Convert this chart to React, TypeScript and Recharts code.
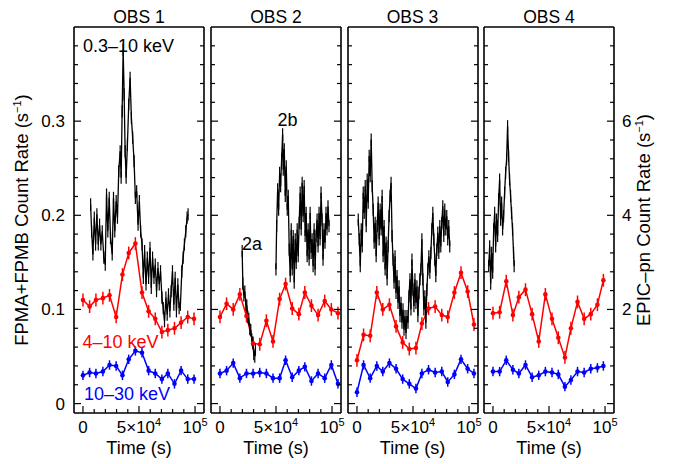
import React from "react";
import { ComposedChart, Line, XAxis, YAxis, ErrorBar } from "recharts";

const FONT = '"Liberation Sans", Arial, Helvetica, sans-serif';

// ---- axis ticks ----
const timeTicks = [0, 10000, 20000, 30000, 40000, 50000, 60000, 70000, 80000, 90000, 100000];
const timeLabels = [
  { v: 0, base: "0", exp: "" },
  { v: 50000, base: "5×10", exp: "4" },
  { v: 100000, base: "10", exp: "5" },
];
const fpmTicks = [0, 0.02, 0.04, 0.06, 0.08, 0.1, 0.12, 0.14, 0.16, 0.18, 0.2, 0.22, 0.24, 0.26, 0.28, 0.3, 0.32, 0.34, 0.36, 0.38];
const fpmLabels = ["0", "0.1", "0.2", "0.3"];
const epicTicks = [0, 0.4, 0.8, 1.2, 1.6, 2, 2.4, 2.8, 3.2, 3.6, 4, 4.4, 4.8, 5.2, 5.6, 6, 6.4, 6.8, 7.2, 7.6];
const epicLabels = ["", "2", "4", "6"];

// ---- NuSTAR FPMA+FPMB (s^-1) ----
const obs1Time = [0, 5940, 11570, 17780, 23690, 29610, 35230, 40850, 46760, 52680, 58590, 64510, 70420, 75750, 81660, 87580, 93490, 99110];
const obs1Soft = [0.110, 0.103, 0.110, 0.112, 0.115, 0.092, 0.137, 0.160, 0.170, 0.118, 0.098, 0.090, 0.076, 0.078, 0.080, 0.086, 0.092, 0.090];
const obs1Hard = [0.030, 0.033, 0.032, 0.034, 0.041, 0.040, 0.030, 0.047, 0.056, 0.054, 0.035, 0.032, 0.026, 0.032, 0.021, 0.035, 0.026, 0.026];

const obs2Time = [0, 5910, 11830, 17750, 23660, 29580, 35490, 41410, 47320, 53240, 58560, 64480, 70390, 75720, 81630, 87550, 93460, 99380, 105300];
const obs2Soft = [0.092, 0.106, 0.100, 0.116, 0.093, 0.064, 0.063, 0.088, 0.066, 0.111, 0.127, 0.101, 0.095, 0.118, 0.104, 0.094, 0.109, 0.100, 0.096];
const obs2Hard = [0.032, 0.035, 0.043, 0.027, 0.032, 0.032, 0.033, 0.032, 0.027, 0.027, 0.046, 0.028, 0.035, 0.039, 0.024, 0.032, 0.027, 0.041, 0.021];

const obs3Time = [0, 5890, 11800, 17720, 23040, 28960, 34870, 40790, 46700, 52620, 57940, 63860, 69770, 75690, 81010, 86930, 92840, 98760, 104380];
const obs3Soft = [0.046, 0.073, 0.072, 0.118, 0.100, 0.105, 0.082, 0.065, 0.058, 0.059, 0.085, 0.101, 0.103, 0.094, 0.092, 0.118, 0.139, 0.119, 0.084];
const obs3Hard = [0.012, 0.041, 0.027, 0.040, 0.034, 0.043, 0.037, 0.026, 0.021, 0.016, 0.032, 0.036, 0.033, 0.034, 0.023, 0.031, 0.047, 0.037, 0.032];

const obs4Time = [0, 5940, 11860, 17780, 23100, 29010, 34930, 40850, 46760, 52680, 58300, 64210, 69540, 75450, 81370, 87280, 93200, 98520];
const obs4Soft = [0.096, 0.097, 0.130, 0.094, 0.113, 0.121, 0.095, 0.066, 0.116, 0.090, 0.070, 0.049, 0.080, 0.108, 0.090, 0.095, 0.105, 0.131];
const obs4Hard = [0.034, 0.034, 0.046, 0.036, 0.032, 0.041, 0.028, 0.030, 0.034, 0.033, 0.031, 0.018, 0.025, 0.034, 0.033, 0.037, 0.038, 0.040];

// ---- XMM EPIC-pn 0.3-10 keV (s^-1), [time, rate] ----
const obs1Epic = [
  [6830, 4.23], [7720, 3.66], [8870, 3.17], [10110, 3.95], [11270, 3.38], [12420, 4.02], [13660, 3.38], [14820, 3.80],
  [15970, 3.38], [17210, 3.66], [18630, 3.10], [19880, 2.95], [21030, 4.44], [22180, 3.66], [23430, 4.37], [24580, 3.52],
  [26090, 3.17], [27240, 4.37], [28390, 3.66], [29640, 4.30], [30790, 3.95], [31940, 4.94], [33190, 5.36], [34070, 4.80],
  [34960, 6.21], [35850, 7.52], [36740, 6.57], [37620, 5.36], [38510, 4.80], [39660, 5.50], [40820, 6.35], [42060, 6.92],
  [43210, 6.07], [44360, 5.65], [45610, 5.15], [46760, 4.37], [47910, 4.51], [49160, 3.80], [50310, 4.30], [51460, 3.66],
  [52710, 3.38], [53860, 2.67], [55010, 3.24], [56260, 2.53], [57410, 3.10], [58560, 2.67], [59810, 3.31], [60960, 2.46],
  [62110, 3.10], [63360, 2.67], [64510, 2.95], [65660, 2.39], [66910, 2.88], [68060, 2.53], [69210, 2.81], [70460, 2.25],
  [71610, 2.03], [72760, 1.75], [74010, 2.25], [75160, 1.89], [76310, 2.32], [77560, 1.96], [78710, 2.39], [79860, 2.81],
  [81110, 2.10], [82260, 2.67], [83410, 1.96], [84660, 2.53], [85810, 2.03], [86960, 2.10], [88210, 2.81], [89360, 3.10],
  [90510, 3.38], [91760, 3.66], [92910, 3.95], [93790, 4.02],
];
const obs2EpicA = [
  [19820, 3.24], [20410, 2.55], [21290, 2.30], [22180, 2.38], [23070, 2.10], [23960, 2.08], [24840, 1.84], [25730, 1.80],
  [26620, 1.58], [27510, 1.56], [28390, 1.36], [29280, 1.30], [30170, 1.05], [31060, 1.00], [31650, 1.15],
];
const obs2EpicB = [
  [49960, 2.85], [50580, 3.77], [51470, 4.55], [52350, 4.12], [53240, 4.90], [54130, 4.62], [55010, 5.19], [55900, 5.72],
  [56490, 4.97], [57380, 5.40], [58270, 4.41], [59150, 5.04], [60040, 4.12], [60930, 4.41], [61810, 3.27], [62700, 2.71],
  [63590, 3.70], [64480, 2.85], [65360, 3.56], [66250, 2.57], [67140, 3.49], [68020, 2.99], [68910, 3.70], [69800, 3.13],
  [70680, 3.84], [71570, 4.48], [72460, 3.70], [73340, 4.69], [74230, 3.98], [75120, 4.62], [76000, 3.56], [76890, 4.05],
  [77780, 3.13], [78660, 3.70], [79550, 3.06], [80440, 4.05], [81330, 3.20], [82210, 3.49], [83100, 2.92], [83990, 3.70],
  [84870, 2.85], [85760, 3.56], [86650, 3.91], [87530, 3.34], [88420, 4.05], [89310, 3.49], [90190, 4.48], [91080, 3.91],
  [91970, 3.06], [92850, 3.70], [93740, 3.42], [94630, 4.05], [95510, 3.70], [96400, 4.19], [97290, 3.77],
];
const obs3Epic = [
  [1150, 3.91], [2040, 3.49], [2930, 2.92], [3820, 3.70], [4700, 3.34], [5590, 4.48], [6480, 4.05], [7360, 4.62],
  [8250, 3.77], [9140, 4.76], [10030, 4.27], [10910, 5.26], [11800, 4.83], [12690, 5.61], [13580, 4.62], [14460, 4.12],
  [15350, 3.42], [16240, 3.84], [17120, 3.13], [18010, 3.77], [18900, 4.27], [19790, 3.49], [20670, 4.12], [21560, 3.70],
  [22450, 4.41], [23340, 3.13], [24220, 3.77], [25110, 2.85], [26000, 3.42], [26890, 2.64], [27770, 3.34], [28660, 3.98],
  [29550, 4.41], [30430, 4.69], [31320, 3.56], [32210, 3.06], [33100, 2.57], [33980, 3.13], [34870, 2.35], [35760, 2.71],
  [36650, 2.14], [37530, 2.49], [38420, 1.86], [39310, 2.14], [40190, 1.72], [41080, 2.00], [41970, 1.57], [42860, 1.86],
  [43740, 1.50], [44630, 1.86], [45520, 1.72], [46400, 2.28], [47290, 2.64], [48180, 2.00], [49070, 3.06], [49950, 2.42],
  [50840, 2.07], [51730, 2.64], [52610, 2.14], [53500, 2.49], [54390, 1.86], [55280, 2.35], [56160, 2.64], [57050, 2.85],
  [57940, 3.49], [58830, 2.64], [59710, 2.00], [60600, 2.28], [61490, 1.72], [62370, 2.42], [63260, 2.85], [64150, 3.13],
  [65040, 2.78], [65920, 3.20], [66810, 3.70], [67700, 4.05], [68580, 3.49], [69470, 3.06], [70360, 2.71], [71250, 3.27],
  [72130, 3.63], [73020, 3.20], [73910, 3.77], [74790, 3.34], [75680, 3.84], [76570, 4.19], [77460, 3.56], [78340, 4.12],
  [79230, 3.70], [80120, 3.98], [81000, 3.49], [81890, 3.77], [82780, 3.34],
];
const obs4Epic = [
  [-3820, 2.92], [-2930, 3.34], [-2040, 2.55], [-1150, 3.20], [-270, 2.78], [620, 3.70], [1510, 4.05], [2400, 3.34],
  [3280, 3.91], [4170, 3.56], [5060, 4.34], [5940, 4.76], [6830, 3.91], [7720, 4.27], [8610, 3.70], [9490, 3.98],
  [10380, 4.48], [11270, 4.90], [12160, 5.19], [13040, 5.89], [13930, 5.26], [14820, 4.76], [15710, 4.41], [16590, 4.05],
  [17480, 3.70], [18370, 3.20], [18900, 2.92],
];

const nuRows = (ts: number[], vs: number[], err: number) => ts.map((t, i) => ({ t, v: vs[i], e: err }));
const epicRows = (pairs: number[][]) => pairs.map(([t, v]) => ({ t, v, e: 0.13 }));

const frame = { stroke: "#000", strokeWidth: 1.6 };
const isMajor = (v: number, step: number) => Math.abs(v / step - Math.round(v / step)) < 1e-6;

function BottomTick(props: any) {
  const { x, y, payload } = props;
  const v = payload.value;
  const major = isMajor(v, 50000);
  const lab = timeLabels.find((l) => l.v === v);
  return (
    <g>
      <line x1={x} x2={x} y1={y} y2={y - (major ? 7 : 4)} stroke="#000" strokeWidth={1.2} />
      {lab && (
        <text x={x} y={y + 20} textAnchor="middle" fontSize={17} fontFamily={FONT} fill="#000">
          <tspan>{lab.base}</tspan>
          {lab.exp && (
            <tspan dy={-7} fontSize={11}>
              {lab.exp}
            </tspan>
          )}
        </text>
      )}
    </g>
  );
}

function TopTick(props: any) {
  const { x, y, payload } = props;
  const major = isMajor(payload.value, 50000);
  return <line x1={x} x2={x} y1={y} y2={y + (major ? 7 : 4)} stroke="#000" strokeWidth={1.2} />;
}

function LeftTick(props: any) {
  const { x, y, payload, showLabels } = props;
  const v = payload.value;
  const major = isMajor(v, 0.1);
  return (
    <g>
      <line x1={x} x2={x + (major ? 7 : 4)} y1={y} y2={y} stroke="#000" strokeWidth={1.2} />
      {showLabels && major && (
        <text x={x - 9} y={y + 6} textAnchor="end" fontSize={17} fontFamily={FONT} fill="#000">
          {fpmLabels[Math.round(v * 10)]}
        </text>
      )}
    </g>
  );
}

function RightTick(props: any) {
  const { x, y, payload, showLabels } = props;
  const v = payload.value;
  const major = isMajor(v, 2);
  return (
    <g>
      <line x1={x} x2={x - (major ? 7 : 4)} y1={y} y2={y} stroke="#000" strokeWidth={1.2} />
      {showLabels && major && (
        <text x={x + 8} y={y + 6} textAnchor="start" fontSize={17} fontFamily={FONT} fill="#000">
          {epicLabels[Math.round(v / 2)]}
        </text>
      )}
    </g>
  );
}

type PanelProps = {
  left: number;
  times: number[];
  soft: number[];
  hard: number[];
  epic: number[][][];
  leftLabels?: boolean;
  rightLabels?: boolean;
};

function Panel({ left, times, soft, hard, epic, leftLabels, rightLabels }: PanelProps) {
  return (
    <div style={{ position: "absolute", left: left - 50, top: 0 }}>
      <ComposedChart width={230} height={464} margin={{ top: 26, right: 49, bottom: 50, left: 49 }}>
        <XAxis
          xAxisId="b"
          type="number"
          dataKey="t"
          domain={[-8000, 108000]}
          ticks={timeTicks}
          interval={0}
          height={1}
          tickSize={0}
          tickMargin={0}
          tickLine={false}
          axisLine={frame}
          tick={(p: any) => <BottomTick {...p} />}
        />
        <XAxis
          xAxisId="top"
          orientation="top"
          type="number"
          dataKey="t"
          domain={[-8000, 108000]}
          ticks={timeTicks}
          interval={0}
          height={1}
          tickSize={0}
          tickMargin={0}
          tickLine={false}
          axisLine={frame}
          tick={(p: any) => <TopTick {...p} />}
        />
        <YAxis
          yAxisId="fpm"
          type="number"
          domain={[-0.01, 0.4]}
          ticks={fpmTicks}
          interval={0}
          width={1}
          tickSize={0}
          tickMargin={0}
          tickLine={false}
          axisLine={frame}
          tick={(p: any) => <LeftTick {...p} showLabels={leftLabels} />}
        />
        <YAxis
          yAxisId="epic"
          orientation="right"
          type="number"
          domain={[-0.2, 8]}
          ticks={epicTicks}
          interval={0}
          width={1}
          tickSize={0}
          tickMargin={0}
          tickLine={false}
          axisLine={frame}
          tick={(p: any) => <RightTick {...p} showLabels={rightLabels} />}
        />
        <Line
          xAxisId="b"
          yAxisId="fpm"
          data={nuRows(times, soft, 0.0068)}
          dataKey="v"
          stroke="#ff0000"
          strokeWidth={1.5}
          dot={{ r: 2.3, fill: "#ff0000", stroke: "#ff0000", strokeWidth: 0 }}
          isAnimationActive={false}
        >
          <ErrorBar dataKey="e" width={0} stroke="#ff0000" strokeWidth={1.5} direction="y" />
        </Line>
        <Line
          xAxisId="b"
          yAxisId="fpm"
          data={nuRows(times, hard, 0.005)}
          dataKey="v"
          stroke="#0000ff"
          strokeWidth={1.5}
          dot={{ r: 2.3, fill: "#0000ff", stroke: "#0000ff", strokeWidth: 0 }}
          isAnimationActive={false}
        >
          <ErrorBar dataKey="e" width={0} stroke="#0000ff" strokeWidth={1.5} direction="y" />
        </Line>
        {epic.map((seg, i) => (
          <Line
            key={i}
            xAxisId="b"
            yAxisId="epic"
            data={epicRows(seg)}
            dataKey="v"
            stroke="#000"
            strokeWidth={1.3}
            dot={false}
            isAnimationActive={false}
          >
            <ErrorBar dataKey="e" width={0} stroke="#000" strokeWidth={1.2} direction="y" />
          </Line>
        ))}
      </ComposedChart>
    </div>
  );
}

const panelLefts = [74, 211, 347.5, 484];
const panelTitles = ["OBS 1", "OBS 2", "OBS 3", "OBS 4"];

export default function App() {
  return (
    <div style={{ position: "absolute", left: 0, top: 0, width: 680, height: 464, background: "#fff", overflow: "hidden" }}>
      <Panel left={panelLefts[0]} times={obs1Time} soft={obs1Soft} hard={obs1Hard} epic={[obs1Epic]} leftLabels />
      <Panel left={panelLefts[1]} times={obs2Time} soft={obs2Soft} hard={obs2Hard} epic={[obs2EpicA, obs2EpicB]} />
      <Panel left={panelLefts[2]} times={obs3Time} soft={obs3Soft} hard={obs3Hard} epic={[obs3Epic]} />
      <Panel left={panelLefts[3]} times={obs4Time} soft={obs4Soft} hard={obs4Hard} epic={[obs4Epic]} rightLabels />
      <svg
        width={680}
        height={464}
        style={{ position: "absolute", left: 0, top: 0, pointerEvents: "none" }}
        fontFamily={FONT}
      >
        {panelLefts.map((l, i) => (
          <g key={i}>
            <text x={l + 65} y={22.5} textAnchor="middle" fontSize={17.5}>
              {panelTitles[i]}
            </text>
            <text x={l + 65} y={454} textAnchor="middle" fontSize={18}>
              Time (s)
            </text>
          </g>
        ))}
        <text x={83} y={52} fontSize={18}>0.3–10 keV</text>
        <text x={82.5} y={348} fontSize={18} fill="#ff0000">4–10 keV</text>
        <text x={84} y={400} fontSize={18} fill="#0000ff">10–30 keV</text>
        <text x={242} y={250} fontSize={18}>2a</text>
        <text x={277.5} y={126} fontSize={18}>2b</text>
        <text transform="translate(28,220) rotate(-90)" textAnchor="middle" fontSize={18.5}>
          FPMA+FPMB Count Rate (s<tspan dy={-7} fontSize={11}>−1</tspan>
          <tspan dy={7}>)</tspan>
        </text>
        <text transform="translate(650,220) rotate(-90)" textAnchor="middle" fontSize={18.5}>
          EPIC–pn Count Rate (s<tspan dy={-7} fontSize={11}>−1</tspan>
          <tspan dy={7}>)</tspan>
        </text>
      </svg>
    </div>
  );
}
